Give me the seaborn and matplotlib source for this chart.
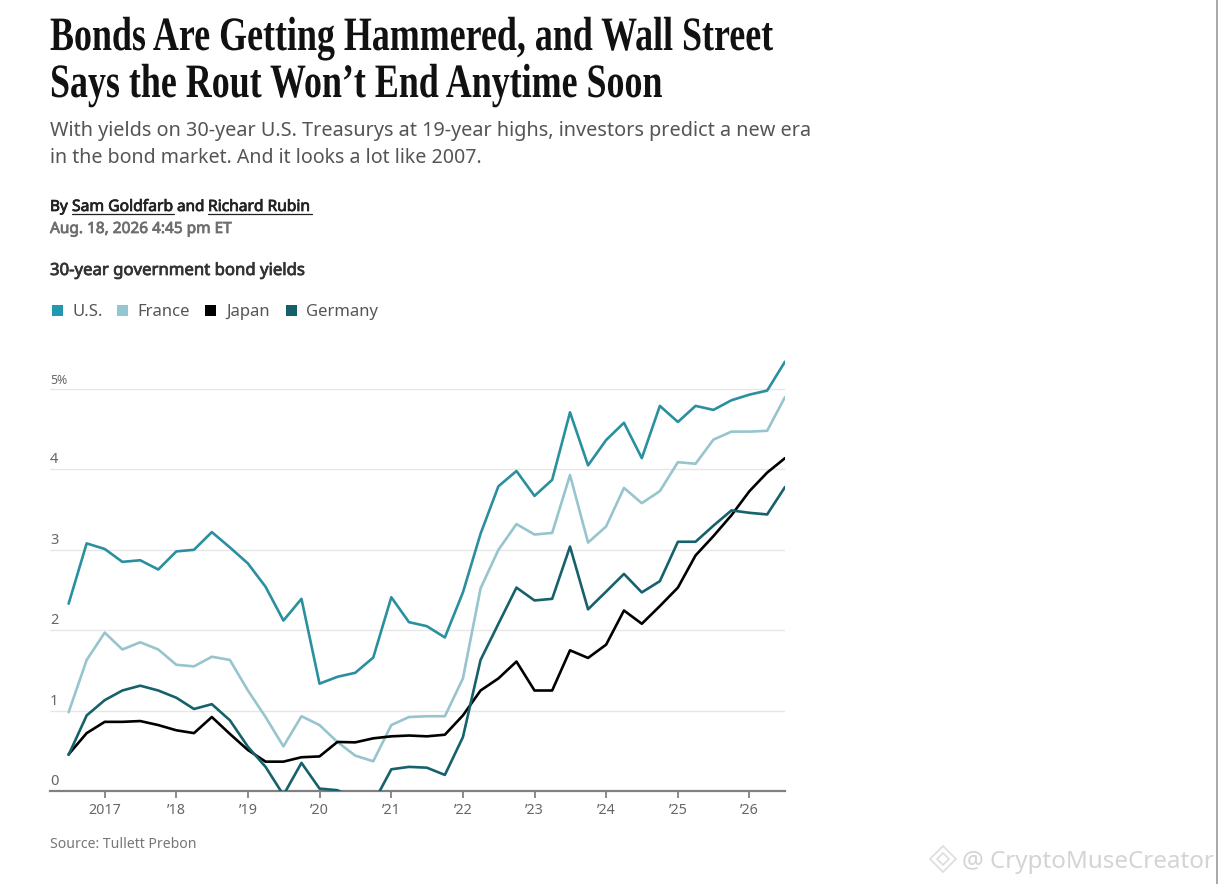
import pandas as pd
import seaborn as sns
import matplotlib.pyplot as plt
from matplotlib.lines import Line2D
from matplotlib.patches import Rectangle, Polygon
from matplotlib.patheffects import AbstractPathEffect, withStroke
from matplotlib.transforms import Affine2D

W, H = 1220, 884

# quarterly readings, mid 2016 to mid 2026
quarters = pd.date_range('2016-07-01', '2026-07-01', freq='QS')

us = [2.33, 3.08, 3.01, 2.85, 2.87, 2.755, 2.98, 3.0, 3.22, 3.03, 2.83, 2.54, 2.12, 2.39,
      1.335, 1.42, 1.47, 1.66, 2.41, 2.10, 2.05, 1.91, 2.47, 3.2, 3.79, 3.98, 3.67, 3.87,
      4.71, 4.05, 4.365, 4.58, 4.14, 4.79, 4.59, 4.79, 4.74, 4.86, 4.93, 4.98, 5.34]
france = [0.98, 1.63, 1.97, 1.76, 1.85, 1.76, 1.57, 1.55, 1.67, 1.63, 1.25, 0.92, 0.555, 0.93,
          0.82, 0.61, 0.44, 0.37, 0.82, 0.92, 0.93, 0.93, 1.40, 2.52, 3.0, 3.32, 3.19, 3.21,
          3.93, 3.09, 3.29, 3.77, 3.58, 3.73, 4.09, 4.07, 4.37, 4.47, 4.47, 4.48, 4.90]
japan = [0.456, 0.72, 0.86, 0.86, 0.87, 0.82, 0.755, 0.72, 0.92, 0.71, 0.51, 0.365, 0.365, 0.42,
         0.43, 0.61, 0.605, 0.655, 0.68, 0.69, 0.68, 0.70, 0.94, 1.25, 1.40, 1.61, 1.25, 1.25,
         1.75, 1.655, 1.82, 2.245, 2.08, 2.30, 2.53, 2.93, 3.17, 3.43, 3.73, 3.96, 4.14]
germany = [0.45, 0.94, 1.13, 1.25, 1.31, 1.25, 1.16, 1.02, 1.08, 0.88, 0.55, 0.30, -0.05, 0.35,
           0.03, 0.01, -0.1, -0.15, 0.27, 0.30, 0.29, 0.2, 0.67, 1.63, 2.08, 2.53, 2.37, 2.39,
           3.04, 2.26, 2.48, 2.70, 2.47, 2.61, 3.10, 3.10, 3.30, 3.49, 3.46, 3.44, 3.78]

series_names = ['U.S.', 'France', 'Japan', 'Germany']
series_colors = ['#2a8f9f', '#97c4cd', '#000000', '#16616b']
legend_colors = ['#1f98b0', '#92c6d2', '#000000', '#135f6b']

y_ticks = [0, 1, 2, 3, 4, 5]
y_labels = ['0', '1', '2', '3', '4', '5%']
x_years = [2017, 2018, 2019, 2020, 2021, 2022, 2023, 2024, 2025, 2026]
x_labels = ['2017', "’18", "’19", "’20", "’21", "’22", "’23", "’24", "’25", "’26"]

df = pd.DataFrame({'date': quarters, 'U.S.': us, 'France': france, 'Japan': japan, 'Germany': germany})
df = df.melt(id_vars='date', var_name='country', value_name='yield')

sns.set_theme(style='white')
plt.rcParams['font.family'] = ['Noto Sans', 'DejaVu Sans']

fig = plt.figure(figsize=(W / 100, H / 100), dpi=100, facecolor='white')


# squeezes glyphs sideways, no condensed serif is installed
class Squeeze(AbstractPathEffect):
    def __init__(self, sx):
        super().__init__()
        self.sx = sx

    def draw_path(self, renderer, gc, tpath, affine, rgbFace=None):
        renderer.draw_path(gc, tpath, Affine2D().scale(self.sx, 1) + affine, rgbFace)


def txt(x, y, s, **kw):
    # x, y in pixels from the top left
    return fig.text(x / W, 1 - y / H, s, va='baseline', ha=kw.pop('ha', 'left'), **kw)


def bold_txt(x, y, s, size, color):
    # the sans has no bold cut here, so thicken it with a thin stroke
    return txt(x, y, s, fontsize=size, color=color,
               path_effects=[withStroke(linewidth=0.55, foreground=color)])


def hline(x0, x1, y, color, lw):
    fig.add_artist(Line2D([x0 / W, x1 / W], [1 - y / H, 1 - y / H], color=color, lw=lw))


# axes box: left 50, right 785, bottom 791, top 350
ax = fig.add_axes([50 / W, 1 - 791 / H, 735 / W, 441 / H])
sns.lineplot(data=df, x='date', y='yield', hue='country', hue_order=series_names,
             palette=series_colors, linewidth=1.9, legend=False, ax=ax, zorder=3)

ax.set_xlim(pd.Timestamp('2016-03-28'), pd.Timestamp('2026-07-01'))
ax.set_ylim(0, 441 / 80.4)
ax.set_yticks(y_ticks)
ax.set_yticklabels([])
ax.set_xticks([pd.Timestamp(year=y, month=1, day=1) for y in x_years])
ax.set_xticklabels(x_labels, fontsize=10.3, color='#666666')
ax.set_xlabel('')
ax.set_ylabel('')
ax.grid(axis='y', color='#e6e6e6', lw=1)
ax.tick_params(axis='x', length=5, width=1.2, color='#777777', pad=4, bottom=True)
ax.tick_params(axis='y', length=0)
sns.despine(ax=ax, left=True, right=True, top=True)
ax.spines['bottom'].set_color('#808080')
ax.spines['bottom'].set_linewidth(1.6)

# y labels sit on top of the gridlines
for tick, label in zip(y_ticks, y_labels):
    ax.annotate(label, (0, tick), xycoords=('axes fraction', 'data'), xytext=(0, 1.5),
                textcoords='offset points', fontsize=10.5 if label != '5%' else 8.8,
                color='#666666', va='bottom', ha='left')

# headline block
title_font = dict(family='Liberation Serif', fontweight='bold', color='#111111',
                  path_effects=[Squeeze(0.75)])
txt(50, 50, 'Bonds Are Getting Hammered, and Wall Street', fontsize=34.5, **title_font)
txt(50, 97, 'Says the Rout Won’t End Anytime Soon', fontsize=34.5, **title_font)

txt(50, 136, 'With yields on 30-year U.S. Treasurys at 19-year highs, investors predict a new era',
    fontsize=14.3, color='#555555')
txt(50, 163, 'in the bond market. And it looks a lot like 2007.', fontsize=14.1, color='#555555')

bold_txt(50, 211, 'By', 11, '#222222')
bold_txt(72, 211, 'Sam Goldfarb', 11.3, '#222222')
bold_txt(177, 211, 'and', 11, '#222222')
bold_txt(208, 211, 'Richard Rubin', 11.2, '#222222')
hline(72, 174, 214, '#222222', 0.9)
hline(208, 312, 214, '#222222', 0.9)
bold_txt(50, 233, 'Aug. 18, 2026 4:45 pm ET', 11.1, '#6e6e6e')

bold_txt(50, 275, '30-year government bond yields', 12.05, '#333333')

# legend chips
chip_x = [52, 117, 205, 286]
label_x = [72, 137, 226, 306]
for name, color, cx, lx in zip(series_names, legend_colors, chip_x, label_x):
    fig.add_artist(Rectangle((cx / W, 1 - 316 / H), 11 / W, 11 / H, color=color, lw=0))
    txt(lx, 316, name, fontsize=12, color='#555555')

txt(50, 848, 'Source: Tullett Prebon', fontsize=10.1, color='#777777')

# watermark and the screenshot edge
for cx, cy, r in [(943, 859, 13), (943, 859, 6)]:
    fig.add_artist(Polygon([((cx - r) / W, 1 - cy / H), (cx / W, 1 - (cy - r) / H),
                            ((cx + r) / W, 1 - cy / H), (cx / W, 1 - (cy + r) / H)],
                           closed=True, fill=False, edgecolor='#dddddd', lw=1.2))
txt(962, 868, '@ CryptoMuseCreator', fontsize=17.4, color='#d4d4d4')
fig.add_artist(Line2D([1216.5 / W, 1216.5 / W], [0, 1], color='#9a9a9a', lw=1.2))

fig.savefig('out.png', dpi=100)
